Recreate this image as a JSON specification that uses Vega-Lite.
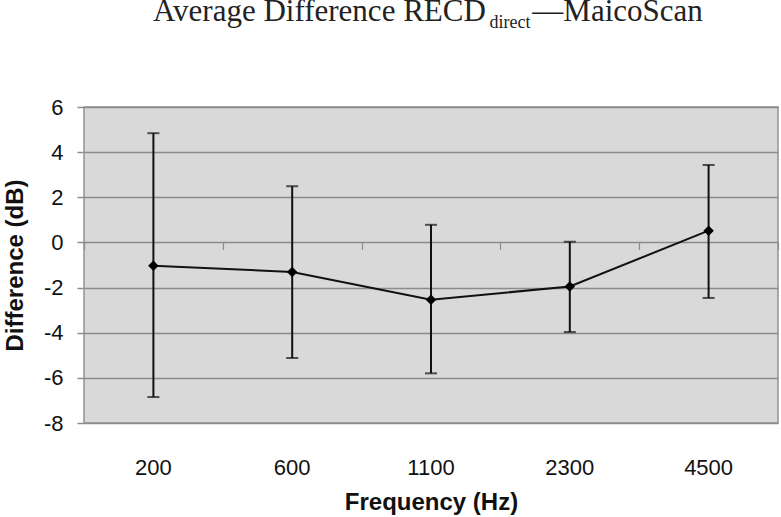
{
  "$schema": "https://vega.github.io/schema/vega-lite/v6.json",
  "autosize": {"type": "none"},
  "padding": {"left": 84, "top": 107, "right": 3, "bottom": 94},
  "width": 694,
  "height": 316,
  "background": "#ffffff",
  "title": {
    "text": "Average Difference RECD\u2003\u2002—MaicoScan",
    "subtitle": "\u200b\u2003\u2003\u2003\u2003\u2003\u2003\u2003\u2003\u2003\u2003\u2003\u2003\u2003\u2003\u2003\u2003\u2003\u2003\u2002\u2009direct",
    "anchor": "start",
    "frame": "group",
    "dx": 69,
    "offset": 63,
    "baseline": "top",
    "font": "Liberation Serif",
    "fontSize": 31,
    "fontWeight": "normal",
    "color": "#222222",
    "subtitleFont": "Liberation Serif",
    "subtitleFontSize": 18,
    "subtitleColor": "#222222",
    "subtitlePadding": -14
  },
  "data": {
    "values": [
      {"freq": "200", "mean": -1.03, "low": -6.85, "high": 4.84},
      {"freq": "600", "mean": -1.31, "low": -5.12, "high": 2.49},
      {"freq": "1100", "mean": -2.54, "low": -5.8, "high": 0.78},
      {"freq": "2300", "mean": -1.95, "low": -3.97, "high": 0.03},
      {"freq": "4500", "mean": 0.52, "low": -2.46, "high": 3.43}
    ]
  },
  "config": {
    "view": {"fill": "#d9d9d9", "stroke": "#929292", "strokeWidth": 1.5},
    "axis": {
      "labelFont": "Liberation Sans",
      "titleFont": "Liberation Sans",
      "labelColor": "#111111",
      "titleColor": "#111111"
    }
  },
  "resolve": {"axis": {"x": "independent"}},
  "layer": [
    {
      "layer": [
        {
          "mark": {"type": "rule", "color": "#111111", "strokeWidth": 2},
          "encoding": {
            "y": {
              "field": "low",
              "type": "quantitative",
              "scale": {"domain": [-8, 6], "nice": false},
              "axis": {
                "title": "Difference (dB)",
                "titleFontSize": 24,
                "titleFontWeight": "bold",
                "titlePadding": 16,
                "labelFontSize": 22,
                "labelPadding": 14,
                "labelExpr": "datum.value < 0 ? '-' + abs(datum.value) : '' + datum.value",
                "values": [-8, -6, -4, -2, 0, 2, 4, 6],
                "tickSize": 7,
                "tickColor": "#8c8c8c",
                "tickWidth": 1.5,
                "domain": false,
                "grid": true,
                "gridColor": "#8c8c8c",
                "gridWidth": 1.5
              }
            },
            "y2": {"field": "high"}
          }
        },
        {
          "mark": {"type": "tick", "color": "#111111", "thickness": 2, "size": 12},
          "encoding": {"y": {"field": "low", "type": "quantitative"}}
        },
        {
          "mark": {"type": "tick", "color": "#111111", "thickness": 2, "size": 12},
          "encoding": {"y": {"field": "high", "type": "quantitative"}}
        },
        {
          "mark": {"type": "line", "color": "#111111", "strokeWidth": 2},
          "encoding": {"y": {"field": "mean", "type": "quantitative"}}
        },
        {
          "mark": {"type": "point", "shape": "diamond", "filled": true, "color": "#000000", "size": 110, "opacity": 1},
          "encoding": {"y": {"field": "mean", "type": "quantitative"}}
        }
      ],
      "encoding": {
        "x": {
          "field": "freq",
          "type": "ordinal",
          "sort": ["200", "600", "1100", "2300", "4500"],
          "scale": {"paddingInner": 0, "paddingOuter": 0},
          "axis": {
            "orient": "bottom",
            "title": "Frequency (Hz)",
            "titleFontSize": 24,
            "titleFontWeight": "bold",
            "titlePadding": 12,
            "labelFontSize": 22,
            "labelAngle": 0,
            "labelPadding": 34,
            "ticks": false,
            "domain": false,
            "grid": false
          }
        }
      }
    },
    {
      "mark": {"type": "point", "opacity": 0},
      "encoding": {
        "y": {"field": "mean", "type": "quantitative"},
        "x": {
          "field": "freq",
          "type": "ordinal",
          "sort": ["200", "600", "1100", "2300", "4500"],
          "axis": {
            "orient": "top",
            "offset": -142.4,
            "tickBand": "extent",
            "tickSize": 7,
            "tickColor": "#8c8c8c",
            "tickWidth": 1.2,
            "labels": false,
            "domain": false,
            "grid": false,
            "title": null
          }
        }
      }
    }
  ]
}
